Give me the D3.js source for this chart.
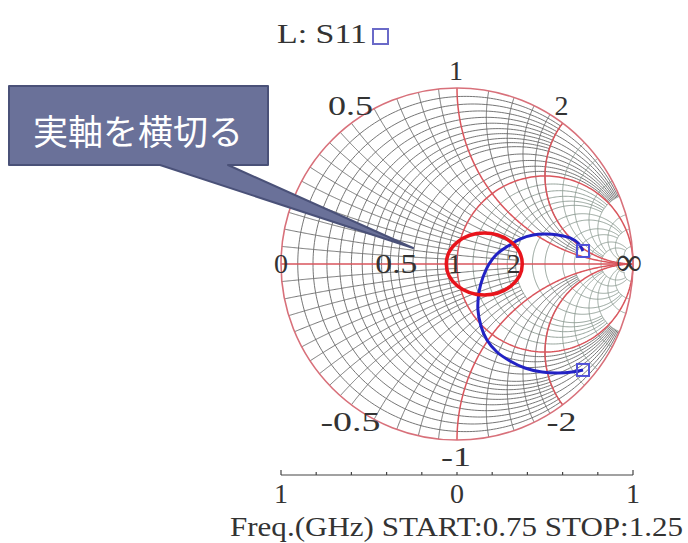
<!DOCTYPE html>
<html><head><meta charset="utf-8">
<script src="https://cdn.jsdelivr.net/npm/d3@7"></script>
<style>body{margin:0;background:#fff}svg{display:block}</style>
</head><body>
<script>
// ---------- data ----------
const traceName = "S11";
const gammaRe = [0.716,0.688,0.642,0.574,0.500,0.432,0.358,0.290,0.227,0.182,0.148,0.125,0.119,0.136,0.170,0.227,0.301,0.386,0.483,0.574,0.653,0.716];
const gammaIm = [0.074,0.119,0.148,0.165,0.170,0.165,0.142,0.102,0.057,0.000,-0.074,-0.159,-0.261,-0.352,-0.432,-0.500,-0.551,-0.591,-0.614,-0.619,-0.614,-0.602];
const rGridFine = [0.05,0.1,0.15,0.2,0.25,0.3,0.35,0.4,0.45,0.5,0.6,0.7,0.8,0.9];
const rGridMid = [1.2,1.4,1.6,1.8,2,2.5,3,4,5];
const rGridCoarse = [7,10,20];
const xGridFine = [0.05,0.1,0.15,0.2,0.25,0.3,0.35,0.4,0.45,0.5,0.6,0.7,0.8,0.9,1.2,1.4,1.6,1.8,2];
const xGridCoarse = [2.5,3,4,5,7,10,20];
const redR = [1];
const redX = [1,-1,2,-2];
const rimLabelValues = [0.5,1,2,-0.5,-1,-2];
const rimLabels = ["0.5","1","2","-0.5","-1","-2"];
const axisLabelValues = [0,0.5,1,2,Infinity];
const axisLabels = ["0","0.5","1","2","\u221e"];
const sweepTicks = [-1,-0.8,-0.6,-0.4,-0.2,0,0.2,0.4,0.6,0.8,1];
const sweepLabelValues = [-1,0,1];
const sweepLabels = ["1","0","1"];
const sweepText = "Freq.(GHz) START:0.75 STOP:1.25";
const calloutText = "実軸を横切る";
const crossing = {re:0.155, im:0.0};

// ---------- layout ----------
const W=688,H=543, cx=457, cy=264, R=176;
const svg = d3.select("body").append("svg").attr("width",W).attr("height",H);
const sx = d3.scaleLinear().domain([-1,1]).range([cx-R,cx+R]);
const sy = d3.scaleLinear().domain([-1,1]).range([cy+R,cy-R]);
const line = d3.line().x(d=>sx(d[0])).y(d=>sy(d[1]));

function gamma(r,x){const d=(r+1)*(r+1)+x*x;return [(r*r-1+x*x)/d, 2*x/d];}
function rCircle(r, xl){
  const c=r/(1+r), rad=1/(1+r);
  let ta=0;
  if(isFinite(xl)){const g=gamma(r,xl); ta=Math.atan2(g[1],g[0]-c);}
  const pts=[], n=240;
  for(let i=0;i<=n;i++){const t=ta+(2*Math.PI-2*ta)*i/n; pts.push([c+rad*Math.cos(t), rad*Math.sin(t)]);}
  return pts;
}
function xArc(x, rl){
  const s=Math.sign(x), ax=Math.abs(x), c=[1,1/ax], rad=1/ax;
  const norm=a=>{while(a<0)a+=2*Math.PI;return a;};
  const g0=gamma(0,ax); const t0=norm(Math.atan2(g0[1]-c[1],g0[0]-c[0]));
  let t1=1.5*Math.PI;
  if(isFinite(rl)){const g1=gamma(rl,ax); t1=norm(Math.atan2(g1[1]-c[1],g1[0]-c[0]));}
  const pts=[], n=200;
  for(let i=0;i<=n;i++){const t=t0+(t1-t0)*i/n; pts.push([c[0]+rad*Math.cos(t), s*(c[1]+rad*Math.sin(t))]);}
  return pts;
}

const grid = svg.append("g").attr("fill","none");
const gridCol="#666666", gridCol2="#8a9890";
rGridFine.forEach((r,i)=>{
  const xl = (Math.round(r*100)%10===0) ? 5 : 2;
  grid.append("path").attr("d",line(rCircle(r,xl))).attr("stroke",gridCol).attr("stroke-width",0.9);
});
rGridMid.forEach(r=>{
  grid.append("path").attr("d",line(rCircle(r,r<=2?5:10))).attr("stroke",gridCol2).attr("stroke-width",0.9);
});
rGridCoarse.forEach(r=>{
  grid.append("path").attr("d",line(rCircle(r,20))).attr("stroke",gridCol2).attr("stroke-width",0.9);
});
xGridFine.forEach(x=>{
  const rl = x<1 ? ((Math.round(x*100)%10===0)?2:1) : 5;
  [x,-x].forEach(v=>grid.append("path").attr("d",line(xArc(v,rl))).attr("stroke",gridCol).attr("stroke-width",0.9));
});
xGridCoarse.forEach(x=>{
  const rl = x<=5 ? 10 : 20;
  [x,-x].forEach(v=>grid.append("path").attr("d",line(xArc(v,rl))).attr("stroke",gridCol2).attr("stroke-width",0.9));
});

// red major lines
const red="#d9555c";
redR.forEach(r=>grid.append("path").attr("d",line(rCircle(r,Infinity))).attr("stroke",red).attr("stroke-width",1.5));
redX.forEach(x=>grid.append("path").attr("d",line(xArc(x,Infinity))).attr("stroke",red).attr("stroke-width",1.5));
grid.append("line").attr("x1",sx(-1)).attr("x2",sx(1)).attr("y1",sy(0)).attr("y2",sy(0)).attr("stroke",red).attr("stroke-width",1.6);
grid.append("circle").attr("cx",sx(0)).attr("cy",sy(0)).attr("r",R).attr("stroke","#d8707a").attr("stroke-width",1.6);

// labels
const font="'Liberation Serif', serif";
const lab = svg.append("g").attr("font-family",font).attr("font-size",28).attr("fill","#333").attr("text-anchor","middle");
rimLabelValues.forEach((x,i)=>{
  const g=gamma(0,x);
  const t=lab.append("text").attr("x",sx(g[0])-1).attr("y",sy(g[1])+(x>0?-8:26)).text(rimLabels[i]);
  if(rimLabels[i].length>1) t.attr("textLength",rimLabels[i].length*15).attr("lengthAdjust","spacingAndGlyphs");
});
axisLabelValues.forEach((r,i)=>{
  const gx = isFinite(r)? gamma(r,0)[0] : 1;
  const t=lab.append("text").attr("x",sx(gx)+(i===0?0:-2)-(i===4?2:0)).attr("y",sy(0)+9).text(axisLabels[i]);
  if(i===1) t.attr("textLength",42).attr("lengthAdjust","spacingAndGlyphs");
  if(i===4) t.attr("font-size",40).attr("y",sy(0)+11).attr("textLength",26).attr("lengthAdjust","spacingAndGlyphs");
});

// trace
const pts = gammaRe.map((v,i)=>[v,gammaIm[i]]);
svg.append("path").attr("d",d3.line().x(d=>sx(d[0])).y(d=>sy(d[1])).curve(d3.curveCatmullRom)(pts))
  .attr("fill","none").attr("stroke","#2222c4").attr("stroke-width",3);
[pts[0],pts[pts.length-1]].forEach(p=>{
  svg.append("rect").attr("x",sx(p[0])-6).attr("y",sy(p[1])-6).attr("width",12).attr("height",12)
    .attr("fill","none").attr("stroke","#5050d8").attr("stroke-width",2);
});

// title
svg.append("text").attr("x",277).attr("y",43).attr("font-family",font).attr("font-size",28).attr("fill","#333")
  .attr("textLength",90).attr("lengthAdjust","spacingAndGlyphs").text("L: "+traceName);
svg.append("rect").attr("x",373).attr("y",29).attr("width",15).attr("height",15).attr("fill","none").attr("stroke","#6a6ac8").attr("stroke-width",2);

// sweep scale
const sw = d3.scaleLinear().domain([-1,1]).range([cx-R,cx+R]);
const swY=475;
svg.append("line").attr("x1",sw(-1)).attr("x2",sw(1)).attr("y1",swY).attr("y2",swY).attr("stroke","#444").attr("stroke-width",1.2);
sweepTicks.forEach(v=>svg.append("line").attr("x1",sw(v)).attr("x2",sw(v)).attr("y1",swY).attr("y2",swY-(Math.abs(v)===1?5:3)).attr("stroke","#444").attr("stroke-width",1.2));
sweepLabelValues.forEach((v,i)=>svg.append("text").attr("x",sw(v)).attr("y",503).attr("font-family",font).attr("font-size",28).attr("fill","#333").attr("text-anchor","middle").text(sweepLabels[i]));
svg.append("text").attr("x",230).attr("y",536).attr("font-family",font).attr("font-size",28).attr("fill","#333")
  .attr("textLength",453).attr("lengthAdjust","spacingAndGlyphs").text(sweepText);

// annotation ellipse
svg.append("ellipse").attr("cx",sx(crossing.re)).attr("cy",sy(crossing.im)).attr("rx",38).attr("ry",31)
  .attr("fill","none").attr("stroke","#e8141c").attr("stroke-width",3.5);

// callout
const co = svg.append("g");
co.append("path").attr("d","M9,86 H268 V165 H228 L413,248 L160,165 H9 Z")
  .attr("fill","#6a7199").attr("stroke","#4a5178").attr("stroke-width",2).attr("stroke-linejoin","round");
co.append("text").attr("x",138).attr("y",145).attr("text-anchor","middle").attr("font-family","'Noto Sans CJK JP', sans-serif")
  .attr("font-size",35).attr("fill","#fff").text(calloutText);
</script>
</body></html>
